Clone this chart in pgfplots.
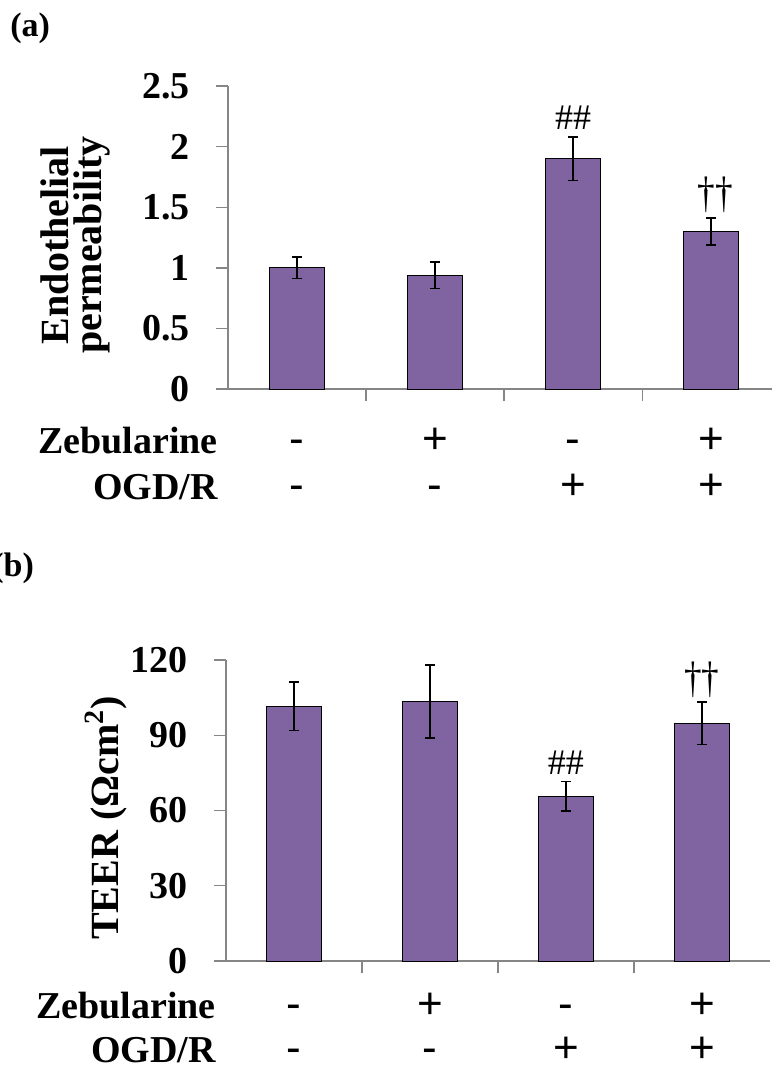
\documentclass[border=0pt]{standalone}
\usepackage{fontspec}
\setmainfont{Liberation Serif}
\newfontfamily\arialf{Liberation Sans}
\usepackage{pgfplots}
\pgfplotsset{compat=1.18}
\definecolor{barpurple}{HTML}{8064A2}
\definecolor{axgray}{HTML}{868686}
\newcommand{\dd}{\scalebox{0.8}[1]{\fontsize{22}{24}\selectfont ††}}
\pgfplotsset{
  panel/.style={
    scale only axis, width=272pt, anchor=south west, clip=false,
    axis x line=bottom, axis y line=left,
    axis line style={axgray, line width=0.7pt, -},
    tick align=outside, major tick length=6pt, minor tick length=6pt,
    every tick/.style={axgray, line width=0.7pt},
    major x tick style={draw=none},
    minor x tick style={axgray, line width=0.7pt},
    xtick={0,1,2,3}, minor xtick={0.5,1.5,2.5},
    xticklabels={{\strut-\\-},{\strut+\\-},{\strut-\\+},{\strut+\\+}},
    xticklabel style={anchor=north, align=center, inner sep=0pt, yshift=-9.9pt,
      font=\arialf\fontsize{22}{23}\selectfont},
    /pgf/number format/assume math mode=true,
    yticklabel style={inner sep=0pt, xshift=-13pt, font=\bfseries\fontsize{19}{22}\selectfont},
    ylabel style={font=\bfseries\fontsize{20}{16.5}\selectfont, align=center, anchor=center},
  },
  bars/.style={ybar, bar width=27.5pt, fill=barpurple, draw=black, line width=0.5pt,
    error bars/.cd, y dir=both, y explicit,
    error bar style={black, line width=0.75pt},
    error mark options={black, rotate=90, mark size=2.6pt, line width=0.75pt}},
}
\begin{document}
\begin{tikzpicture}
\useasboundingbox (0,0) rectangle (386pt,-533.5pt);
\node[anchor=west, inner sep=0pt, font=\bfseries\fontsize{17}{20}\selectfont] at (5pt,-14pt) {(a)};
\node[anchor=west, inner sep=0pt, font=\bfseries\fontsize{17}{20}\selectfont] at (-4pt,-284pt) {(b)};
% Panel (a)
\begin{axis}[panel, at={(114pt,-194.5pt)}, height=151.5pt,
  xmin=-0.5, xmax=3.44, ymin=0, ymax=2.5, ytick={0,0.5,1,1.5,2,2.5},
  ylabel={Endothelial\\permeability},
  ylabel style={at={(axis description cs:-0.281,0.475)}}]
\addplot[bars] coordinates {
  (0,1.00) +- (0,0.09)
  (1,0.94) +- (0,0.11)
  (2,1.90) +- (0,0.18)
  (3,1.30) +- (0,0.11)
};
\node[font=\fontsize{18}{20}\selectfont] at (axis cs:2,2.24) {\#\#};
\node at (axis cs:3.03,1.60) {\dd};
\node[anchor=base east, inner sep=0pt, xshift=-5pt, yshift=-32pt, font=\bfseries\fontsize{19}{22}\selectfont] at (rel axis cs:0,0) {Zebularine};
\node[anchor=base east, inner sep=0pt, xshift=-5pt, yshift=-55pt, font=\bfseries\fontsize{19}{22}\selectfont] at (rel axis cs:0,0) {OGD/R};
\end{axis}
% Panel (b)
\begin{axis}[panel, at={(113pt,-480.5pt)}, height=150.5pt,
  xmin=-0.5, xmax=3.5, ymin=0, ymax=120, ytick={0,30,60,90,120},
  xticklabel style={yshift=2.8pt, font=\arialf\fontsize{22}{22}\selectfont},
  ylabel={TEER (Ωcm\textsuperscript{2})},
  ylabel style={at={(axis description cs:-0.2206,0.475)}}]
\addplot[bars] coordinates {
  (0,101.5) +- (0,9.7)
  (1,103.5) +- (0,14.5)
  (2,65.7) +- (0,5.9)
  (3,94.8) +- (0,8.4)
};
\node[font=\fontsize{18}{20}\selectfont] at (axis cs:2,79) {\#\#};
\node at (axis cs:3,112) {\dd};
\node[anchor=base east, inner sep=0pt, xshift=-5pt, yshift=-28.5pt, font=\bfseries\fontsize{19}{22}\selectfont] at (rel axis cs:0,0) {Zebularine};
\node[anchor=base east, inner sep=0pt, xshift=-5pt, yshift=-50.5pt, font=\bfseries\fontsize{19}{22}\selectfont] at (rel axis cs:0,0) {OGD/R};
\end{axis}
\end{tikzpicture}
\end{document}
